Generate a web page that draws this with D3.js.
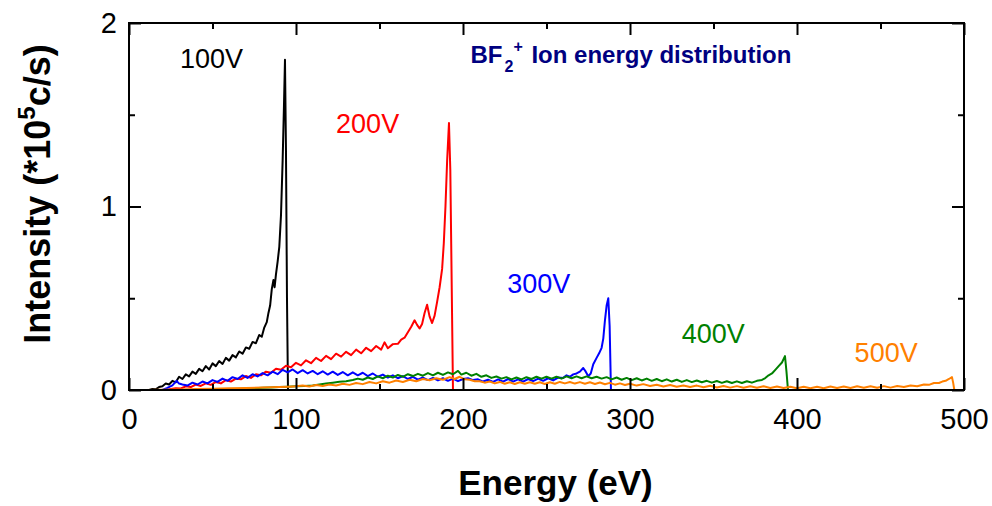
<!DOCTYPE html>
<html>
<head>
<meta charset="utf-8">
<script src="https://cdn.jsdelivr.net/npm/d3@7"></script>
<style>
  body { margin: 0; background: #fff; }
  text { font-family: "Liberation Sans", Arial, sans-serif; }
</style>
</head>
<body>
<script>
// energy (eV), intensity (*10^5 c/s)
var v100 = [[0,0],[12,0],[14,0.006],[16,0.004],[18,0.016],[20,0.02],[22,0.035],[24,0.03],[26,0.05],[28,0.042],[30,0.072],[32,0.06],[34,0.085],[36,0.074],[38,0.1],[40,0.088],[42,0.115],[44,0.102],[46,0.13],[48,0.112],[50,0.145],[52,0.13],[54,0.158],[56,0.142],[58,0.175],[60,0.16],[62,0.19],[64,0.178],[66,0.21],[68,0.198],[70,0.232],[72,0.225],[74,0.262],[76,0.255],[78,0.3],[79.5,0.29],[81,0.34],[82.5,0.37],[83.5,0.42],[84.5,0.46],[85.5,0.55],[86.5,0.6],[87.2,0.56],[88,0.63],[89,0.7],[90,0.78],[91,0.95],[92,1.25],[92.8,1.55],[93.4,1.8],[94,1.3],[94.6,0.5],[95.2,0],[130,0]]

var v200 = [[0,0],[22,0],[25,0.006],[28,0.01],[31,0.008],[34,0.02],[37,0.016],[40,0.03],[43,0.022],[46,0.036],[49,0.028],[52,0.044],[55,0.036],[58,0.054],[61,0.046],[64,0.062],[67,0.058],[70,0.076],[73,0.066],[76,0.086],[79,0.08],[82,0.1],[85,0.094],[88,0.116],[91,0.11],[94,0.132],[97,0.124],[100,0.148],[103,0.134],[106,0.162],[109,0.146],[112,0.175],[115,0.158],[118,0.186],[121,0.168],[124,0.198],[127,0.182],[130,0.208],[133,0.19],[136,0.22],[139,0.2],[142,0.23],[145,0.212],[148,0.24],[151,0.22],[153,0.26],[155,0.228],[158,0.25],[161,0.252],[163,0.275],[165,0.285],[167,0.315],[169,0.345],[171,0.38],[172.5,0.355],[174,0.335],[175.5,0.36],[177,0.42],[178.5,0.465],[180,0.4],[181.5,0.365],[183,0.405],[184.5,0.48],[186,0.56],[187.5,0.66],[188.5,0.8],[189.5,1.0],[190.5,1.25],[191.6,1.455],[192.4,1.2],[193.2,0.6],[194,0],[220,0]]

var v300 = [[0,0],[20,0],[23,0.012],[26,0.025],[28.5,0.05],[30,0.035],[32,0.03],[35,0.024],[38,0.04],[41,0.03],[44,0.046],[47,0.036],[50,0.054],[53,0.044],[56,0.062],[59,0.05],[62,0.07],[65,0.06],[68,0.08],[71,0.066],[74,0.086],[77,0.074],[80,0.092],[83,0.08],[86,0.1],[89,0.086],[92,0.11],[95,0.096],[98,0.112],[101,0.092],[104,0.108],[107,0.09],[110,0.104],[113,0.086],[116,0.102],[119,0.084],[122,0.1],[125,0.082],[128,0.098],[131,0.08],[134,0.096],[137,0.08],[140,0.094],[143,0.076],[146,0.09],[149,0.072],[152,0.084],[155,0.068],[158,0.08],[161,0.064],[164,0.076],[167,0.06],[170,0.072],[173,0.056],[176,0.068],[179,0.054],[182,0.066],[185,0.052],[188,0.064],[191,0.05],[194,0.062],[197,0.048],[200,0.06],[203,0.064],[206,0.054],[209,0.058],[212,0.046],[215,0.056],[218,0.044],[221,0.058],[224,0.046],[227,0.06],[230,0.046],[233,0.058],[236,0.046],[239,0.06],[242,0.048],[245,0.062],[248,0.05],[251,0.064],[254,0.052],[257,0.068],[260,0.066],[262,0.08],[264,0.072],[266,0.085],[268,0.09],[270,0.1],[272,0.12],[273.5,0.1],[275,0.075],[276.5,0.09],[278,0.14],[280,0.175],[281.5,0.2],[283,0.23],[284,0.28],[285,0.38],[286,0.46],[287,0.5],[287.8,0.35],[288.6,0],[395,0]]

var v400 = [[0,0],[55,0],[60,0.004],[65,0.006],[70,0.008],[75,0.01],[80,0.012],[85,0.014],[90,0.016],[95,0.018],[100,0.02],[105,0.022],[110,0.025],[114,0.03],[118,0.035],[122,0.04],[126,0.045],[130,0.048],[134,0.055],[137,0.062],[140,0.056],[143,0.068],[146,0.06],[149,0.074],[152,0.064],[155,0.078],[158,0.068],[161,0.082],[164,0.072],[167,0.086],[170,0.076],[173,0.088],[176,0.078],[179,0.092],[182,0.08],[185,0.094],[188,0.082],[191,0.096],[194,0.086],[197,0.104],[199,0.084],[202,0.094],[205,0.078],[208,0.088],[211,0.072],[214,0.08],[217,0.066],[220,0.074],[223,0.062],[226,0.07],[229,0.058],[232,0.068],[235,0.058],[238,0.07],[241,0.06],[244,0.072],[247,0.062],[250,0.072],[253,0.062],[256,0.072],[259,0.062],[262,0.074],[265,0.064],[268,0.074],[271,0.064],[274,0.074],[277,0.064],[280,0.072],[283,0.062],[286,0.07],[289,0.058],[292,0.068],[295,0.056],[298,0.066],[301,0.054],[304,0.064],[307,0.052],[310,0.062],[313,0.05],[316,0.06],[319,0.048],[322,0.058],[325,0.046],[328,0.056],[331,0.044],[334,0.054],[337,0.043],[340,0.052],[343,0.042],[346,0.05],[349,0.04],[352,0.049],[355,0.039],[358,0.048],[361,0.038],[364,0.047],[367,0.038],[370,0.048],[373,0.04],[376,0.05],[379,0.055],[381,0.065],[383,0.08],[385,0.09],[387,0.11],[389,0.13],[391,0.15],[392.8,0.185],[393.7,0.1],[394.6,0],[500,0]]

var v500 = [[0,0],[10,0],[20,0.002],[30,0.003],[40,0.005],[50,0.007],[60,0.009],[70,0.011],[80,0.013],[90,0.016],[96,0.018],[100,0.02],[104,0.024],[108,0.019],[112,0.027],[116,0.022],[120,0.03],[124,0.025],[128,0.034],[132,0.028],[136,0.038],[140,0.032],[144,0.044],[148,0.036],[152,0.048],[156,0.04],[160,0.052],[164,0.044],[168,0.056],[172,0.048],[176,0.06],[180,0.053],[184,0.064],[188,0.056],[192,0.07],[195,0.06],[198,0.072],[201,0.058],[204,0.056],[207,0.048],[210,0.048],[213,0.04],[216,0.046],[219,0.036],[222,0.044],[225,0.034],[228,0.042],[231,0.033],[234,0.042],[237,0.034],[240,0.042],[243,0.034],[246,0.042],[249,0.033],[252,0.042],[255,0.034],[258,0.044],[261,0.036],[264,0.044],[267,0.035],[270,0.043],[273,0.034],[276,0.042],[279,0.033],[282,0.041],[285,0.031],[288,0.039],[291,0.029],[294,0.036],[297,0.027],[300,0.034],[304,0.024],[308,0.032],[312,0.022],[316,0.029],[320,0.019],[324,0.027],[328,0.018],[332,0.025],[336,0.016],[340,0.024],[344,0.015],[348,0.023],[352,0.014],[356,0.022],[360,0.013],[364,0.021],[368,0.012],[372,0.02],[376,0.012],[380,0.02],[384,0.011],[388,0.019],[392,0.011],[396,0.018],[400,0.01],[404,0.018],[408,0.01],[412,0.018],[416,0.01],[420,0.019],[424,0.011],[428,0.019],[432,0.011],[436,0.02],[440,0.012],[444,0.02],[448,0.012],[452,0.021],[456,0.013],[460,0.022],[464,0.016],[468,0.025],[472,0.02],[476,0.03],[479,0.028],[482,0.038],[485,0.038],[487,0.046],[489,0.05],[491,0.06],[492.8,0.07],[493.5,0.04],[494.2,0],[500,0]]

var names = ['100V', '200V', '300V', '400V', '500V']
var xMajor = [0, 100, 200, 300, 400, 500]
var xMinor = [50, 150, 250, 350, 450]
var yMajor = [0, 1, 2]
var yMinor = [0.5, 1.5]

var colors = ['#000000', '#ff0000', '#0000ff', '#008000', '#ff8000']
// where each label sits, in data units (energy, intensity)
var labelAt = [[30.5, 1.755], [124, 1.4], [226.5, 0.53], [331, 0.256], [434.5, 0.153]]

var series = [v100, v200, v300, v400, v500].map(function(d, i){
  return {name: names[i], values: d, color: colors[i], at: labelAt[i]}
})

var margin = {left: 129, top: 23, right: 28, bottom: 116}
var width = 992 - margin.left - margin.right,
    height = 506 - margin.top - margin.bottom

var svg = d3.select('body').append('svg')
    .attr('width', 992).attr('height', 506)
  .append('g')
    .attr('transform', 'translate(' + margin.left + ',' + margin.top + ')')

var x = d3.scaleLinear().domain([0, 500]).range([0, width])
var y = d3.scaleLinear().domain([0, 2]).range([height, 0])

var line = d3.line().x(function(d){ return x(d[0]) }).y(function(d){ return y(d[1]) })

svg.append('g').selectAll('path').data(series).join('path')
    .attr('d', function(d){ return line(d.values) })
    .style('fill', 'none')
    .style('stroke', function(d){ return d.color })
    .style('stroke-width', 2)
    .style('stroke-linejoin', 'round')

// axes: ticks point inward, mirrored on top/right
function tidy(g){
  g.select('.domain').remove()
  g.selectAll('line').style('stroke', '#000').style('stroke-width', 2)
  g.selectAll('text').style('font-size', '29px').style('font-family', '"Liberation Sans", Arial, sans-serif').attr('fill', '#000')
}

svg.append('g').attr('transform', 'translate(0,' + height + ')')
    .call(d3.axisBottom(x).tickValues(xMajor).tickSize(-12).tickPadding(18).tickFormat(d3.format('d')))
    .call(tidy)
svg.append('g').attr('transform', 'translate(0,' + height + ')')
    .call(d3.axisBottom(x).tickValues(xMinor).tickSize(-6).tickFormat(''))
    .call(tidy)
svg.append('g')
    .call(d3.axisTop(x).tickValues(xMajor).tickSize(-12).tickFormat(''))
    .call(tidy)
svg.append('g')
    .call(d3.axisTop(x).tickValues(xMinor).tickSize(-6).tickFormat(''))
    .call(tidy)

svg.append('g')
    .call(d3.axisLeft(y).tickValues(yMajor).tickSize(-12).tickPadding(12).tickFormat(d3.format('d')))
    .call(tidy)
svg.append('g')
    .call(d3.axisLeft(y).tickValues(yMinor).tickSize(-6).tickFormat(''))
    .call(tidy)
svg.append('g').attr('transform', 'translate(' + width + ',0)')
    .call(d3.axisRight(y).tickValues(yMajor).tickSize(-12).tickFormat(''))
    .call(tidy)
svg.append('g').attr('transform', 'translate(' + width + ',0)')
    .call(d3.axisRight(y).tickValues(yMinor).tickSize(-6).tickFormat(''))
    .call(tidy)

svg.append('rect')
    .attr('width', width).attr('height', height)
    .style('fill', 'none').style('stroke', '#000').style('stroke-width', 2)

// series labels
svg.append('g').selectAll('text').data(series).join('text')
    .attr('x', function(d){ return x(d.at[0]) })
    .attr('y', function(d){ return y(d.at[1]) })
    .attr('fill', function(d){ return d.color })
    .style('font-size', '27px')
    .text(function(d){ return d.name })

// title
var title = svg.append('text')
    .attr('x', x(204.5)).attr('y', y(1.78))
    .attr('fill', '#000080')
    .style('font-size', '24px').style('font-weight', 'bold')
title.append('tspan').text('BF')
title.append('tspan').attr('dx', 2).attr('dy', 9).style('font-size', '16px').text('2')
title.append('tspan').attr('dy', -20).style('font-size', '16px').text('+')
title.append('tspan').attr('dx', 2).attr('dy', 11).text(' Ion energy distribution')

// axis titles
svg.append('text')
    .attr('x', width / 2 + 9).attr('y', height + 105)
    .attr('text-anchor', 'middle')
    .style('font-size', '35px').style('font-weight', 'bold')
    .text('Energy (eV)')

var yt = svg.append('text')
    .attr('transform', 'translate(' + (50 - margin.left) + ',' + (height / 2 - 12.5) + ') rotate(-90)')
    .attr('text-anchor', 'middle')
    .style('font-size', '36px').style('font-weight', 'bold')
yt.append('tspan').text('Intensity (*10')
yt.append('tspan').attr('dy', -15).style('font-size', '24px').text('5')
yt.append('tspan').attr('dy', 15).text('c/s)')
</script>
</body>
</html>
